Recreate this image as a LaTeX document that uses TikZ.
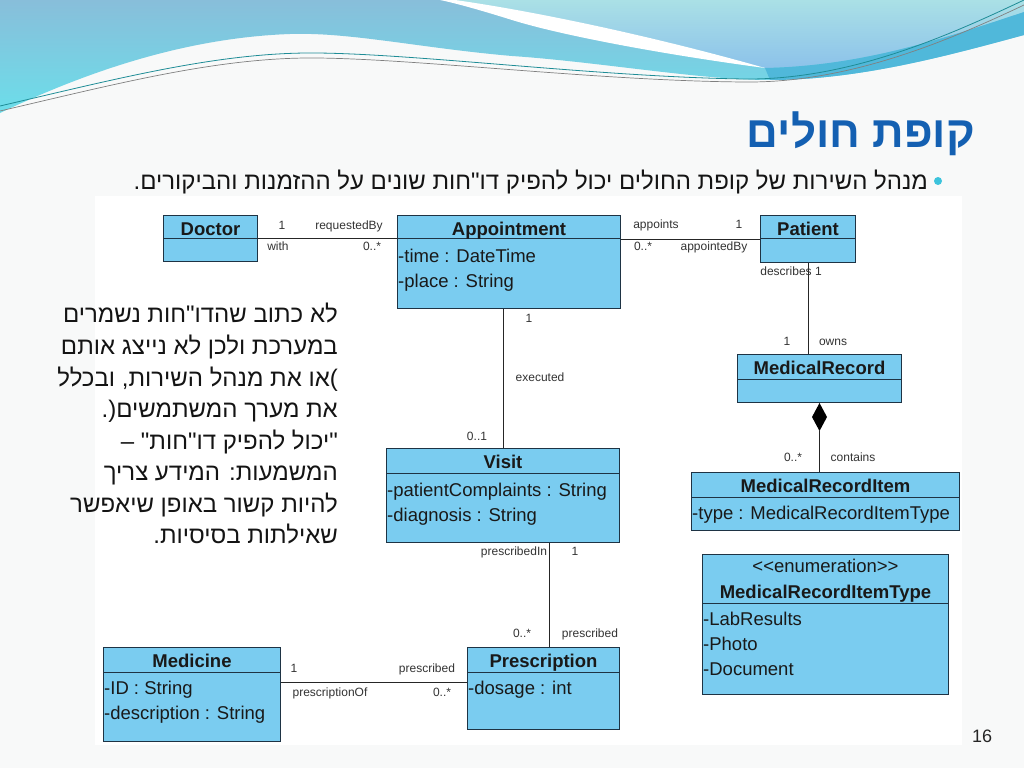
\documentclass[tikz,border=0pt]{standalone}
\usepackage{fontspec}
\setmainfont{Liberation Sans}
\newfontfamily\heb[Script=Hebrew]{Liberation Sans}
\TeXXeTstate=1
\usetikzlibrary{calc}
\definecolor{clsfill}{HTML}{7ACCF0}
\definecolor{clsborder}{HTML}{1E3344}
\definecolor{labgray}{HTML}{333333}
\definecolor{bgc}{HTML}{F8F9F9}
\definecolor{titleblue}{HTML}{1460B2}
\definecolor{bulletc}{HTML}{3CC3DC}
\definecolor{wavetopA}{RGB}{136,190,218}
\definecolor{wavebotA}{RGB}{108,222,234}
\definecolor{wavetopB}{RGB}{170,224,230}
\definecolor{wavebotB}{RGB}{140,194,234}
\definecolor{waveband}{RGB}{80,184,218}
\definecolor{waveline}{RGB}{30,140,150}
\tikzset{
  cls/.style={draw=clsborder, fill=clsfill, line width=1pt, inner sep=0pt, anchor=north west},
  divl/.style={draw=clsborder, line width=1pt},
  cname/.style={font=\fontsize{18.5}{20}\selectfont\bfseries, anchor=base, inner sep=0pt, text=black!90},
  attr/.style={font=\fontsize{18.5}{20}\selectfont, anchor=base west, inner sep=0pt, text=black!90},
  lab/.style={font=\fontsize{12}{14}\selectfont, anchor=base, inner sep=0pt, text=labgray},
  conn/.style={draw=black!85, line width=0.9pt},
  hebline/.style={font=\heb\fontsize{24}{28}\selectfont, anchor=base east, inner sep=0pt, text=black!92},
}
\begin{document}
\begin{tikzpicture}[x=1pt,y=-1pt]
\useasboundingbox (0,0) rectangle (1024,768);
\fill[bgc] (0,0) rectangle (1024,768);
% ---- top decoration ----
\shade[top color=wavetopA, bottom color=wavebotA]
  (0,0) -- (1024,0) -- (1024,35) .. controls (950,55) and (860,80) .. (770,80)
  .. controls (700,80) and (600,62) .. (512,56) .. controls (420,48) and (350,32) .. (290,34)
  .. controls (180,38) and (80,75) .. (0,113) -- cycle;
\shade[top color=wavetopB, bottom color=wavebotB]
  (450,0) -- (1024,0) -- (1024,12) .. controls (940,40) and (860,66) .. (765,68)
  .. controls (660,38) and (540,12) .. (450,0) -- cycle;
\fill[waveband]
  (765,68) .. controls (860,66) and (940,40) .. (1024,12) -- (1024,35)
  .. controls (950,55) and (860,80) .. (770,80) -- cycle;
\fill[white] (440,0) -- (455,0) .. controls (540,12) and (660,38) .. (765,68)
  .. controls (660,54) and (560,35) .. (512,20) .. controls (480,10) and (455,3) .. (440,0) -- cycle;
\draw[waveline, line width=0.8pt]
  (0,106) .. controls (120,78) and (220,52) .. (317,53) .. controls (420,54) and (600,77) .. (745,79)
  .. controls (850,80) and (950,35) .. (1024,0);
\draw[gray, line width=0.7pt]
  (0,111) .. controls (120,83) and (220,57) .. (317,58) .. controls (420,59) and (600,81) .. (745,82)
  .. controls (850,83) and (950,40) .. (1024,5);
% ---- title and bullet ----
\node[anchor=base east, inner sep=0pt, text=titleblue, font=\heb\bfseries\fontsize{44}{50}\selectfont] (title) at (975,147) {\beginR קופת חולים\endR};
\fill[bulletc] (938,181) circle (4);
\node[anchor=base east, inner sep=0pt, text=black!92, font=\heb\fontsize{24}{28}\selectfont] (bullet) at (928,189) {\beginR מנהל השירות של קופת החולים יכול להפיק דו"חות שונים על ההזמנות והביקורים.\endR};
% ---- diagram panel ----
\fill[white] (95,196) rectangle (962,745);
% ---- left note ----
\node[hebline] (n1) at (338,322) {\beginR לא כתוב שהדו"חות נשמרים\endR};
\node[hebline] (n2) at (338,354) {\beginR במערכת ולכן לא נייצג אותם\endR};
\node[hebline] (n3) at (338,386) {\beginR\hbox{)}או את מנהל השירות, ובכלל\endR};
\node[hebline] (n4) at (338,417) {\beginR את מערך המשתמשים\hbox{(}\hbox{.}\endR};
\node[hebline] (n5) at (338,449) {\beginR "יכול להפיק דו"חות" –\endR};
\node[hebline] (n6) at (338,480) {\beginR המשמעות: המידע צריך\endR};
\node[hebline] (n7) at (338,512) {\beginR להיות קשור באופן שיאפשר\endR};
\node[hebline] (n8) at (338,543) {\beginR שאילתות בסיסיות.\endR};
% ---- classes ----
% Doctor
\node[cls, minimum width=94, minimum height=46] (doctor) at (163,215) {};
\draw[divl] ([yshift=-23pt]doctor.north west) -- ([yshift=-23pt]doctor.north east);
\node[cname] (doctor-n) at ([yshift=-20pt]doctor.north) {Doctor};
% Appointment
\node[cls, minimum width=223, minimum height=93] (appt) at (397,215) {};
\draw[divl] ([yshift=-23pt]appt.north west) -- ([yshift=-23pt]appt.north east);
\node[cname] (appt-n) at ([yshift=-20pt]appt.north) {Appointment};
\node[attr] (appt-a1) at ([xshift=1pt,yshift=-47pt]appt.north west) {-time : DateTime};
\node[attr] (appt-a2) at ([xshift=1pt,yshift=-72pt]appt.north west) {-place : String};
% Patient
\node[cls, minimum width=95, minimum height=47] (patient) at (760,215) {};
\draw[divl] ([yshift=-23pt]patient.north west) -- ([yshift=-23pt]patient.north east);
\node[cname] (patient-n) at ([yshift=-20pt]patient.north) {Patient};
% MedicalRecord
\node[cls, minimum width=164, minimum height=48] (mr) at (737,354) {};
\draw[divl] ([yshift=-25pt]mr.north west) -- ([yshift=-25pt]mr.north east);
\node[cname] (mr-n) at ([yshift=-20pt]mr.north) {MedicalRecord};
% MedicalRecordItem
\node[cls, minimum width=268, minimum height=58] (mri) at (691,472) {};
\draw[divl] ([yshift=-25pt]mri.north west) -- ([yshift=-25pt]mri.north east);
\node[cname] (mri-n) at ([yshift=-20pt]mri.north) {MedicalRecordItem};
\node[attr] (mri-a1) at ([xshift=1pt,yshift=-47pt]mri.north west) {-type : MedicalRecordItemType};
% Enumeration
\node[cls, minimum width=246, minimum height=140] (enum) at (702,554) {};
\draw[divl] ([yshift=-49pt]enum.north west) -- ([yshift=-49pt]enum.north east);
\node[attr, anchor=base] (enum-s) at ([yshift=-18pt]enum.north) {<{}<enumeration>{}>};
\node[cname] (enum-n) at ([yshift=-44pt]enum.north) {MedicalRecordItemType};
\node[attr] (enum-a1) at ([xshift=1pt,yshift=-71pt]enum.north west) {-LabResults};
\node[attr] (enum-a2) at ([xshift=1pt,yshift=-96pt]enum.north west) {-Photo};
\node[attr] (enum-a3) at ([xshift=1pt,yshift=-121pt]enum.north west) {-Document};
% Visit
\node[cls, minimum width=233, minimum height=94] (visit) at (386,448) {};
\draw[divl] ([yshift=-25pt]visit.north west) -- ([yshift=-25pt]visit.north east);
\node[cname] (visit-n) at ([yshift=-20pt]visit.north) {Visit};
\node[attr] (visit-a1) at ([xshift=1pt,yshift=-48pt]visit.north west) {-patientComplaints : String};
\node[attr] (visit-a2) at ([xshift=1pt,yshift=-73pt]visit.north west) {-diagnosis : String};
% Medicine
\node[cls, minimum width=177, minimum height=94] (medicine) at (103,647) {};
\draw[divl] ([yshift=-25pt]medicine.north west) -- ([yshift=-25pt]medicine.north east);
\node[cname] (medicine-n) at ([yshift=-20pt]medicine.north) {Medicine};
\node[attr] (medicine-a1) at ([xshift=1pt,yshift=-47pt]medicine.north west) {-ID : String};
\node[attr] (medicine-a2) at ([xshift=1pt,yshift=-72pt]medicine.north west) {-description : String};
% Prescription
\node[cls, minimum width=152, minimum height=82] (presc) at (467,647) {};
\draw[divl] ([yshift=-25pt]presc.north west) -- ([yshift=-25pt]presc.north east);
\node[cname] (presc-n) at ([yshift=-20pt]presc.north) {Prescription};
\node[attr] (presc-a1) at ([xshift=1pt,yshift=-47pt]presc.north west) {-dosage : int};
% ---- connectors ----
\draw[conn] (doctor.east) -- (doctor.east -| appt.west);
\draw[conn] (patient.west) -- (patient.west -| appt.east);
\draw[conn] (patient.south) -- (patient.south |- mr.north);
\draw[conn] (visit.north) -- (visit.north |- appt.south);
\coordinate (dtop) at (mr.south);
\fill[black] (dtop) -- ++(7.5,14) -- ++(-7.5,14) -- ++(-7.5,-14) -- cycle;
\coordinate (dbot) at ([yshift=-28pt]mr.south);
\draw[conn] (dbot) -- (dbot |- mri.north);
\coordinate (vp) at ([xshift=6pt]presc.north);
\draw[conn] (vp) -- (vp |- visit.south);
\coordinate (mp) at ([yshift=12pt]medicine.east);
\draw[conn] (mp) -- (mp -| presc.west);
% ---- labels ----
\node[lab] (l1) at (282,229) {1};
\node[lab] (l2) at (349,229) {requestedBy};
\node[lab] (l3) at (278,250) {with};
\node[lab] (l4) at (372,250) {0..*};
\node[lab] (l5) at (656,228) {appoints};
\node[lab] (l6) at (739,228) {1};
\node[lab] (l7) at (643,250) {0..*};
\node[lab] (l8) at (714,250) {appointedBy};
\node[lab] (l9) at (791,275) {describes 1};
\node[lab] (l10) at (787,345) {1};
\node[lab] (l11) at (833,345) {owns};
\node[lab] (l12) at (793,461) {0..*};
\node[lab] (l13) at (853,461) {contains};
\node[lab] (l14) at (529,322) {1};
\node[lab] (l15) at (540,381) {executed};
\node[lab] (l16) at (477,440) {0..1};
\node[lab] (l17) at (514,555) {prescribedIn};
\node[lab] (l18) at (575,555) {1};
\node[lab] (l19) at (522,637) {0..*};
\node[lab] (l20) at (590,637) {prescribed};
\node[lab] (l21) at (294,672) {1};
\node[lab] (l22) at (427,672) {prescribed};
\node[lab] (l23) at (330,696) {prescriptionOf};
\node[lab] (l24) at (442,696) {0..*};
% page number
\node[anchor=base, inner sep=0pt, font=\fontsize{18}{20}\selectfont, text=black!85] (pnum) at (982,742) {16};
\end{tikzpicture}
\end{document}
